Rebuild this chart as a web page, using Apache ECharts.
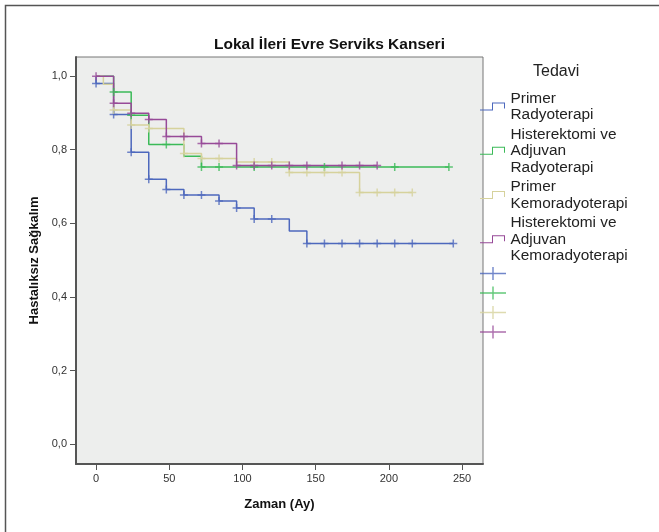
<!DOCTYPE html>
<html>
<head>
<meta charset="utf-8">
<title>Lokal İleri Evre Serviks Kanseri</title>
<script src="https://cdn.jsdelivr.net/npm/echarts@6/dist/echarts.min.js"></script>
<style>
  html, body { margin: 0; padding: 0; background: #fff; }
  #chart { width: 659px; height: 532px; }
</style>
</head>
<body>
<div id="chart"></div>
<script>
// Kaplan-Meier basamaklari (zaman, sagkalim) - gruplara gore
const groupNames = ['Primer Radyoterapi', 'Histerektomi ve Adjuvan Radyoterapi', 'Primer Kemoradyoterapi', 'Histerektomi ve Adjuvan Kemoradyoterapi']
const groupLabels = ['Primer\nRadyoterapi', 'Histerektomi ve\nAdjuvan\nRadyoterapi', 'Primer\nKemoradyoterapi', 'Histerektomi ve\nAdjuvan\nKemoradyoterapi']

const prTime = [0, 0, 12, 24, 36, 48, 60, 84, 96, 108, 132, 144, 244]
const prSurv = [1.0, 0.980, 0.896, 0.793, 0.720, 0.692, 0.677, 0.661, 0.642, 0.612, 0.579, 0.545, 0.545]
const prCens = [0, 12, 24, 36, 48, 60, 72, 84, 96, 108, 120, 144, 156, 168, 180, 192, 204, 216, 244]

const harTime = [0, 12, 24, 36, 60, 72, 241]
const harSurv = [1.0, 0.957, 0.894, 0.814, 0.782, 0.753, 0.753]
const harCens = [12, 24, 48, 72, 84, 108, 156, 204, 241]

const pkTime = [0, 5, 12, 24, 36, 60, 72, 96, 132, 180, 216]
const pkSurv = [1.0, 0.978, 0.908, 0.867, 0.858, 0.790, 0.776, 0.767, 0.738, 0.684, 0.684]
const pkCens = [12, 24, 36, 60, 72, 84, 108, 120, 132, 144, 156, 168, 180, 192, 204, 216]

const hakTime = [0, 12, 24, 36, 48, 72, 96, 192]
const hakSurv = [1.0, 0.926, 0.899, 0.882, 0.836, 0.817, 0.757, 0.757]
const hakCens = [0, 12, 24, 36, 48, 60, 72, 84, 96, 108, 120, 132, 144, 168, 180, 192]

const xTicks = [0, 50, 100, 150, 200, 250]
const yTicks = [0, 0.2, 0.4, 0.6, 0.8, 1.0]

const colors = ['#4d68bd', '#3bba58', '#d6d29c', '#974a98']

const groups = [
  { time: prTime, surv: prSurv, cens: prCens },
  { time: harTime, surv: harSurv, cens: harCens },
  { time: pkTime, surv: pkSurv, cens: pkCens },
  { time: hakTime, surv: hakSurv, cens: hakCens },
]

// sansur noktasinin egri uzerindeki degeri
function survAt(g, t) {
  let s = g.surv[0]
  g.time.forEach((tt, i) => { if (tt <= t) s = g.surv[i] })
  return s
}

const stepIcon = 'path://M0,7h13v1h-13z M12,0h1v8h-1z M12,0h13v1h-13z M24,0h1v6h-1z'
const crossIcon = 'path://M0,5.8h26v1.4h-26z M12.3,0h1.4v13h-1.4z'
const font = 'Liberation Sans, Arial, sans-serif'

const lineSeries = groups.map((g, i) => ({
  name: groupNames[i],
  type: 'line',
  step: 'end',
  showSymbol: false,
  color: colors[i],
  lineStyle: { width: 1.5, color: colors[i] },
  data: g.time.map((t, k) => [t, g.surv[k]]),
  z: 2 + i,
}))

const censSeries = groups.map((g, i) => ({
  name: groupNames[i] + ' (sansür)',
  type: 'scatter',
  symbol: 'path://M0,5H10M5,0V10',
  symbolSize: 8,
  color: colors[i],
  itemStyle: { color: 'none', borderColor: colors[i], borderWidth: 1.5 },
  data: g.cens.map(t => [t, survAt(g, t)]),
  z: 10 + i,
}))

const myChart = echarts.init(document.getElementById('chart'))
const option = {
  animation: false,
  backgroundColor: '#fff',
  textStyle: { fontFamily: font },
  title: [{
    text: 'Lokal İleri Evre Serviks Kanseri',
    left: 'center',
    top: 37,
    padding: 0,
    textStyle: { fontSize: 15.5, fontWeight: 'bold', color: '#111', fontFamily: font },
  }, {
    text: 'Tedavi',
    left: 533,
    top: 64,
    padding: 0,
    textStyle: { fontSize: 16, fontWeight: 'normal', color: '#222', fontFamily: font },
  }],
  legend: [{
    orient: 'vertical',
    left: 480,
    top: 90,
    padding: 0,
    itemWidth: 26,
    itemHeight: 8,
    itemGap: 3,
    selectedMode: false,
    textStyle: { fontSize: 15.4, lineHeight: 16.5, color: '#222', fontFamily: font },
    formatter: name => groupLabels[groupNames.indexOf(name)],
    data: groupNames.map((n, i) => ({ name: n, icon: stepIcon, itemStyle: { color: colors[i], borderWidth: 0 } })),
  }, {
    orient: 'vertical',
    left: 480,
    top: 267,
    padding: 0,
    itemWidth: 26,
    itemHeight: 13,
    itemGap: 6.5,
    selectedMode: false,
    textStyle: { fontSize: 11, lineHeight: 13 },
    formatter: () => '',
    data: groupNames.map((n, i) => ({ name: n + ' (sansür)', icon: crossIcon, itemStyle: { color: colors[i], borderWidth: 0 } })),
  }],
  grid: {
    left: 76,
    right: 176,
    top: 57,
    bottom: 68,
    show: true,
    backgroundColor: '#edeeed',
    borderColor: '#777',
    borderWidth: 1,
  },
  xAxis: {
    type: 'value',
    min: -13.7,
    max: 264.3,
    name: 'Zaman (Ay)',
    nameLocation: 'middle',
    nameGap: 34,
    nameTextStyle: { fontSize: 13, fontWeight: 'bold', color: '#111', fontFamily: font },
    axisLine: { show: true, onZero: false, lineStyle: { color: '#555', width: 2 } },
    axisTick: { show: true, length: 6, customValues: xTicks, lineStyle: { color: '#555' } },
    axisLabel: { customValues: xTicks, fontSize: 11, color: '#333', margin: 9 },
    splitLine: { show: false },
  },
  yAxis: {
    type: 'value',
    min: -0.054,
    max: 1.052,
    name: 'Hastalıksız Sağkalım',
    nameLocation: 'middle',
    nameGap: 31,
    nameTextStyle: { fontSize: 13, fontWeight: 'bold', color: '#111', fontFamily: font },
    axisLine: { show: true, onZero: false, lineStyle: { color: '#555', width: 2 } },
    axisTick: { show: true, length: 6, customValues: yTicks, lineStyle: { color: '#555' } },
    axisLabel: {
      customValues: yTicks,
      fontSize: 11,
      color: '#333',
      margin: 9,
      formatter(val) {
        return val.toFixed(1).replace('.', ',')
      }
    },
    splitLine: { show: false },
  },
  graphic: [{
    type: 'rect',
    silent: true,
    shape: { x: 5.5, y: 5.5, width: 700, height: 600 },
    style: { fill: 'none', stroke: '#555', lineWidth: 1.5 },
  }],
  series: lineSeries.concat(censSeries),
}
myChart.setOption(option)
</script>
</body>
</html>
